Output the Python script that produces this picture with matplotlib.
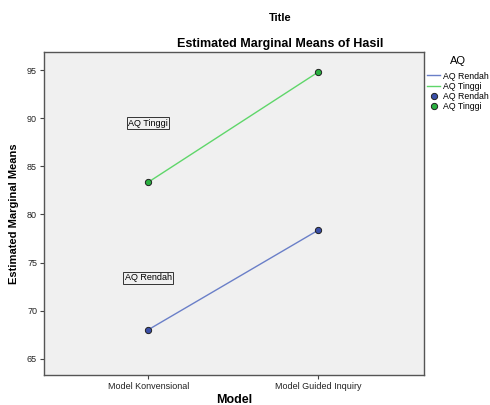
import matplotlib
matplotlib.use("Agg")
import matplotlib.pyplot as plt

plt.rcParams['font.family'] = ['Liberation Sans', 'DejaVu Sans']

categories = ["Model Konvensional", "Model Guided Inquiry"]
rendah = [68.0, 78.35]
tinggi = [83.35, 94.8]
series_names = ["AQ Rendah", "AQ Tinggi"]
yticks = [65, 70, 75, 80, 85, 90, 95]

fig = plt.figure(figsize=(4.9, 4.05), dpi=100)
ax = fig.add_axes([44/490, 1-375/405, 380/490, 323/405])
ax.set_facecolor('#f0f0f0')
x = list(range(len(categories)))

line_cols = ['#6a7fc8', '#5fd66a']
mk_cols = ['#3a4fa8', '#2ab040']
l1, = ax.plot(x, rendah, color=line_cols[0], lw=1)
l2, = ax.plot(x, tinggi, color=line_cols[1], lw=1)
m1, = ax.plot(x, rendah, 'o', color=mk_cols[0], mec='#202020', mew=0.7, ms=4.5, ls='none')
m2, = ax.plot(x, tinggi, 'o', color=mk_cols[1], mec='#202020', mew=0.7, ms=4.5, ls='none')

ax.set_xlim(-0.613, 1.624)
ax.set_ylim(63.3, 96.9)
ax.set_yticks(yticks)
ax.set_xticks(x)
ax.set_xticklabels(categories)
ax.tick_params(labelsize=6.5, length=3, width=0.8, colors='#444444', labelcolor='#222222', pad=2)
for s in ax.spines.values():
    s.set_color('#555555')
    s.set_linewidth(1)

ax.set_xlabel("Model", fontsize=9, fontweight='bold', labelpad=2)
ax.set_ylabel("Estimated Marginal Means", fontsize=8, fontweight='bold', labelpad=6)

bbox = dict(boxstyle='square,pad=0.15', fc='#f0f0f0', ec='#333333', lw=0.7)
ax.text(0, 89.5, series_names[1], ha='center', va='center', fontsize=6.5, bbox=bbox)
ax.text(0, 73.4, series_names[0], ha='center', va='center', fontsize=6.5, bbox=bbox)

fig.text(280/490, 1-18/405, "Title", ha='center', va='center', fontsize=8, fontweight='bold')
fig.text(280/490, 1-44/405, "Estimated Marginal Means of Hasil", ha='center', va='center', fontsize=9, fontweight='bold')

leg = fig.legend([l1, l2, m1, m2], series_names + series_names, title="AQ",
                 loc='upper left', bbox_to_anchor=(427/490, 1-56/405), frameon=False,
                 fontsize=6.3, title_fontsize=8, handlelength=1.5, handletextpad=0.3,
                 labelspacing=0.12, borderaxespad=0, borderpad=0)
leg._legend_box.sep = 4

fig.savefig("out.png", dpi=100, facecolor='white')
